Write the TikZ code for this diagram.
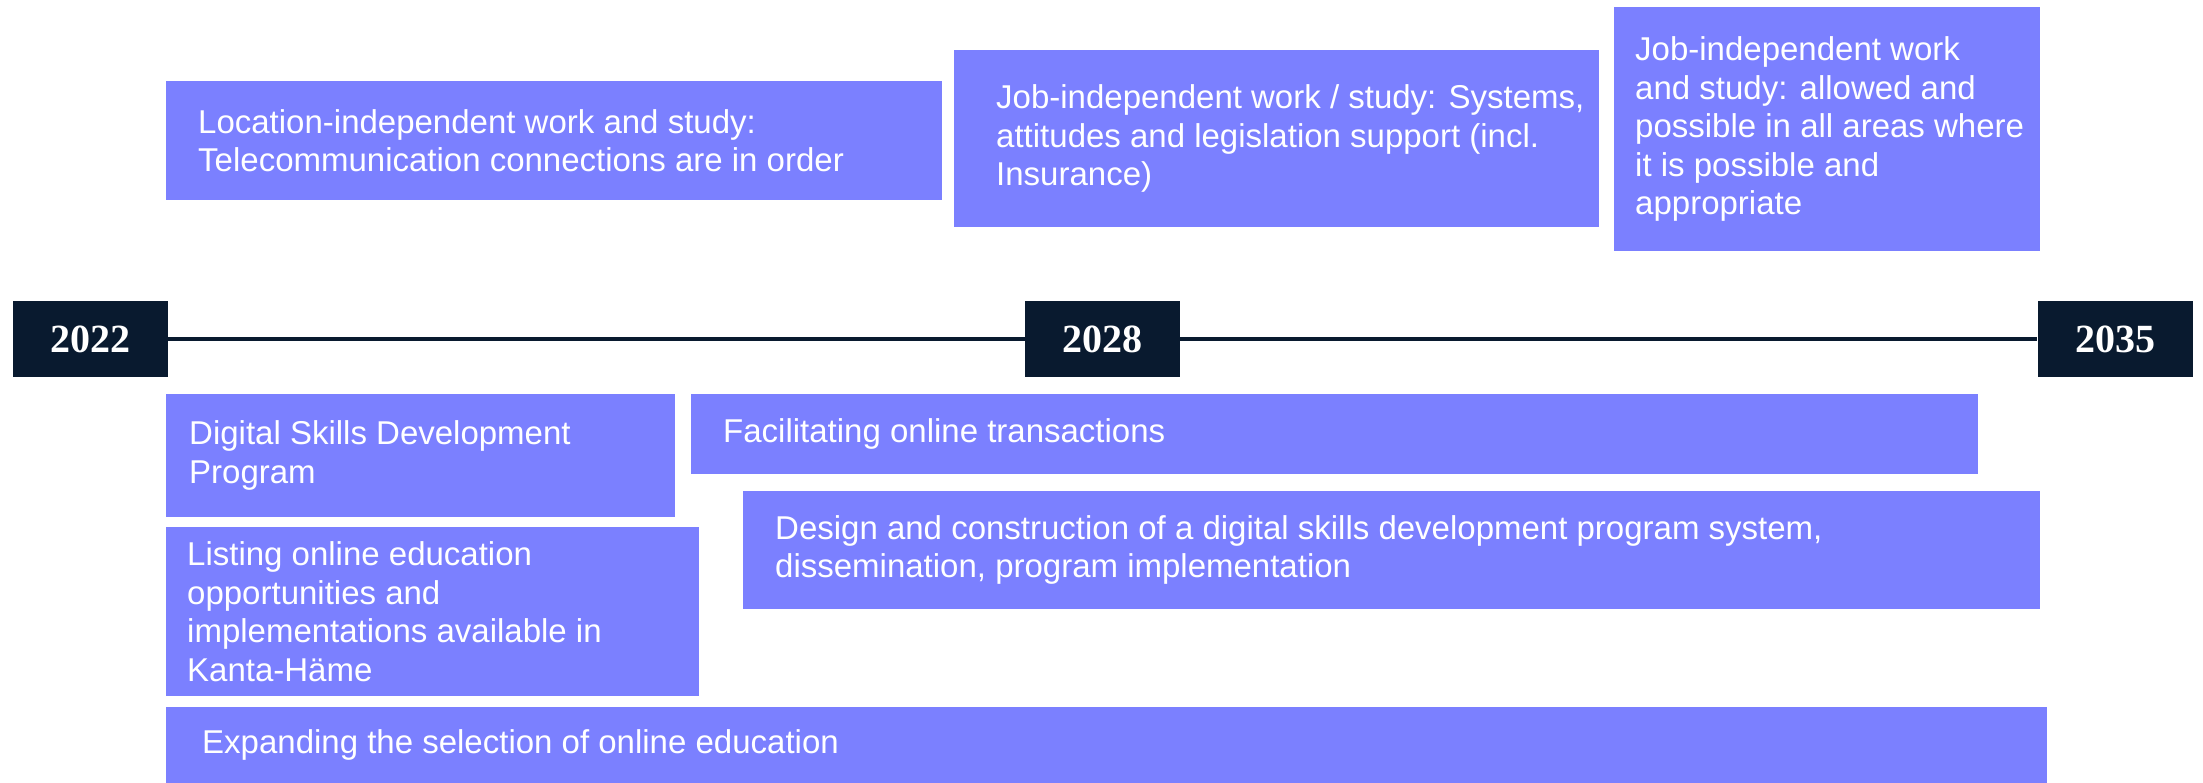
\documentclass[tikz,border=0pt]{standalone}
\usepackage{fontspec}
\setmainfont{Liberation Sans}
\newfontfamily\yearfont{Liberation Serif}
\definecolor{taskblue}{HTML}{7B80FF}
\definecolor{navy}{HTML}{091A2F}
\tikzset{
	taskbox/.style = {fill = taskblue, anchor = north west, inner sep = 0pt, outer sep = 0pt},
	tasktext/.style = {text = white, anchor = west, align = left, inner sep = 0pt, font = \fontsize{33}{38.5}\selectfont},
	yearbox/.style = {fill = navy, text = white, minimum width = 155, minimum height = 76, inner sep = 0pt, font = \yearfont\bfseries\fontsize{40}{40}\selectfont}
}
\begin{document}
\begin{tikzpicture}[x = 1pt, y = -1pt]
			\useasboundingbox (0, 0) rectangle (2203, 783);
			\node[yearbox] (y2022) at (90.5, 339) {2022};
			\node[yearbox] (y2028) at (1102.5, 339) {2028};
			\node[yearbox] (y2035) at (2115, 339) {2035};
			\draw[navy, line width = 4] (y2022) -- (y2028);
			\draw[navy, line width = 4] (y2028) -- (y2035);
			\node[taskbox, minimum width = 776, minimum height = 119] (loc) at (166, 81) {};
			\node[tasktext, xshift = 32] (loc text) at (loc.west) {Location-independent work and study:\\Telecommunication connections are in order};
			\node[taskbox, minimum width = 645, minimum height = 177] (jobsys) at (954, 50) {};
			\node[tasktext, xshift = 42] (jobsys text) at (jobsys.west) {Job-independent work / study: Systems,\\attitudes and legislation support (incl.\\Insurance)};
			\node[taskbox, minimum width = 426, minimum height = 244] (jobarea) at (1614, 7) {};
			\node[tasktext, xshift = 21] (jobarea text) at (jobarea.west) {Job-independent work\\and study: allowed and\\possible in all areas where\\it is possible and\\appropriate};
			\node[taskbox, minimum width = 509, minimum height = 123] (digital) at (166, 394) {};
			\node[tasktext, xshift = 23] (digital text) at (digital.west) {Digital Skills Development\\Program};
			\node[taskbox, minimum width = 1287, minimum height = 80] (online) at (691, 394) {};
			\node[tasktext, xshift = 32] (online text) at (online.west) {Facilitating online transactions};
			\node[taskbox, minimum width = 1297, minimum height = 118] (design) at (743, 491) {};
			\node[tasktext, xshift = 32] (design text) at (design.west) {Design and construction of a digital skills development program system,\\dissemination, program implementation};
			\node[taskbox, minimum width = 533, minimum height = 169] (listing) at (166, 527) {};
			\node[tasktext, xshift = 21] (listing text) at (listing.west) {Listing online education\\opportunities and\\implementations available in\\Kanta-Häme};
			\node[taskbox, minimum width = 1881, minimum height = 76] (expand) at (166, 707) {};
			\node[tasktext, xshift = 36] (expand text) at (expand.west) {Expanding the selection of online education};
		\end{tikzpicture}
\end{document}
